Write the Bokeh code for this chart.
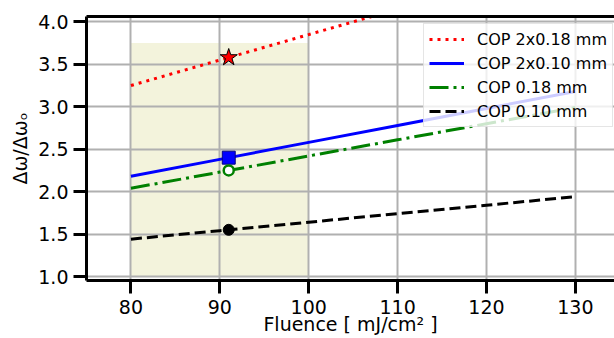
from bokeh.plotting import figure
from bokeh.models import (BoxAnnotation, FixedTicker, LinearAxis, Legend, LegendItem,
                          Range1d, Grid)
from bokeh.embed import file_html
from bokeh.resources import INLINE

# ---- data ----
fluence = [80, 90, 100, 110, 120, 130]
cop_2x018 = [3.25, 3.55, 3.85, 4.15, 4.45, 4.75]
cop_2x010 = [2.18, 2.38, 2.58, 2.78, 2.98, 3.18]
cop_018 = [2.04, 2.23, 2.42, 2.61, 2.80, 2.99]
cop_010 = [1.44, 1.54, 1.64, 1.74, 1.84, 1.94]

marker_x = [91]
mark_2x018 = [3.58]
mark_2x010 = [2.40]
mark_018 = [2.25]
mark_010 = [1.55]

band_x = [80, 100]
band_y = [1.0, 3.75]

x_ticks = [80, 90, 100, 110, 120, 130]
x_tick_labels = ["80", "90", "100", "110", "120", "130"]
y_ticks = [1.0, 1.5, 2.0, 2.5, 3.0, 3.5, 4.0]
y_tick_labels = ["1.0", "1.5", "2.0", "2.5", "3.0", "3.5", "4.0"]

X_MIN, X_MAX = 75, 134.4
Y_MIN, Y_MAX = 0.953, 4.063

FONT = "DejaVu Sans"

p = figure(width=614, height=338, output_backend="svg", toolbar_location=None,
           x_range=Range1d(X_MIN, X_MAX), y_range=Range1d(Y_MIN, Y_MAX),
           min_border_left=86, min_border_right=0, min_border_top=16,
           min_border_bottom=58, x_axis_location=None, y_axis_location=None)
p.outline_line_color = None
p.background_fill_color = "white"
p.border_fill_color = "white"

band = BoxAnnotation(left=band_x[0], right=band_x[1], bottom=band_y[0], top=band_y[1],
                     fill_color="#f3f3dc", fill_alpha=1.0, line_color=None, level="image")
p.add_layout(band)

xaxis = LinearAxis(ticker=FixedTicker(ticks=x_ticks),
                   major_label_overrides={t: l for t, l in zip(x_ticks, x_tick_labels)},
                   axis_label="Fluence [ mJ/cm² ]")
yaxis = LinearAxis(ticker=FixedTicker(ticks=y_ticks),
                   major_label_overrides={t: l for t, l in zip(y_ticks, y_tick_labels)},
                   axis_label="Δω/Δωₒ")
for ax in (xaxis, yaxis):
    ax.axis_line_width = 3
    ax.axis_line_color = "black"
    ax.major_tick_line_width = 3
    ax.major_tick_out = 13
    ax.major_tick_in = 0
    ax.minor_tick_line_color = None
    ax.major_label_text_font = FONT
    ax.major_label_text_font_size = "19px"
    ax.major_label_text_color = "black"
    ax.axis_label_text_font = FONT
    ax.axis_label_text_font_size = "19px"
    ax.axis_label_text_font_style = "normal"
    ax.axis_label_text_color = "black"
xaxis.major_label_standoff = 6
xaxis.axis_label_standoff = -4
yaxis.major_label_standoff = 5
yaxis.axis_label_standoff = 4
p.add_layout(xaxis, "below")
p.add_layout(yaxis, "left")

top_axis = LinearAxis(ticker=FixedTicker(ticks=[]), axis_line_width=3,
                      major_tick_line_color=None, minor_tick_line_color=None,
                      major_label_text_font_size="0px")
p.add_layout(top_axis, "above")

gx = Grid(dimension=0, ticker=FixedTicker(ticks=x_ticks), grid_line_color="#b0b0b0",
          grid_line_width=2)
gy = Grid(dimension=1, ticker=FixedTicker(ticks=y_ticks), grid_line_color="#b0b0b0",
          grid_line_width=2)
p.add_layout(gx)
p.add_layout(gy)

r1 = p.line(fluence, cop_2x018, line_color="#ff0000", line_width=3, line_dash="3 5")
r2 = p.line(fluence, cop_2x010, line_color="#0000ff", line_width=3)
r3 = p.line(fluence, cop_018, line_color="#008000", line_width=3, line_dash="19 5 3 5")
r4 = p.line(fluence, cop_010, line_color="black", line_width=3, line_dash="11 5")

p.scatter(marker_x, mark_2x018, marker="star", size=18, fill_color="#ff0000",
          line_color="black", line_width=1)
p.scatter(marker_x, mark_2x010, marker="square", size=13, fill_color="#0000ff",
          line_color="#000080", line_width=1)
p.scatter(marker_x, mark_018, marker="circle", size=10, fill_color="white",
          line_color="#008000", line_width=2.5)
p.scatter(marker_x, mark_010, marker="circle", size=11, fill_color="black",
          line_color="black", line_width=1)

legend = Legend(items=[
    LegendItem(label="COP 2x0.18 mm", renderers=[r1]),
    LegendItem(label="COP 2x0.10 mm", renderers=[r2]),
    LegendItem(label="COP 0.18 mm", renderers=[r3]),
    LegendItem(label="COP 0.10 mm", renderers=[r4]),
], location=(337, 153))
legend.label_text_font = FONT
legend.label_text_font_size = "16px"
legend.label_text_color = "black"
legend.glyph_width = 35
legend.glyph_height = 20
legend.label_height = 20
legend.label_standoff = 13
legend.spacing = 4
legend.padding = 5
legend.margin = 0
legend.border_line_color = "#cccccc"
legend.border_line_width = 1
legend.background_fill_color = "white"
legend.background_fill_alpha = 0.8
p.add_layout(legend)

open("out.html", "w").write(file_html(p, INLINE))
